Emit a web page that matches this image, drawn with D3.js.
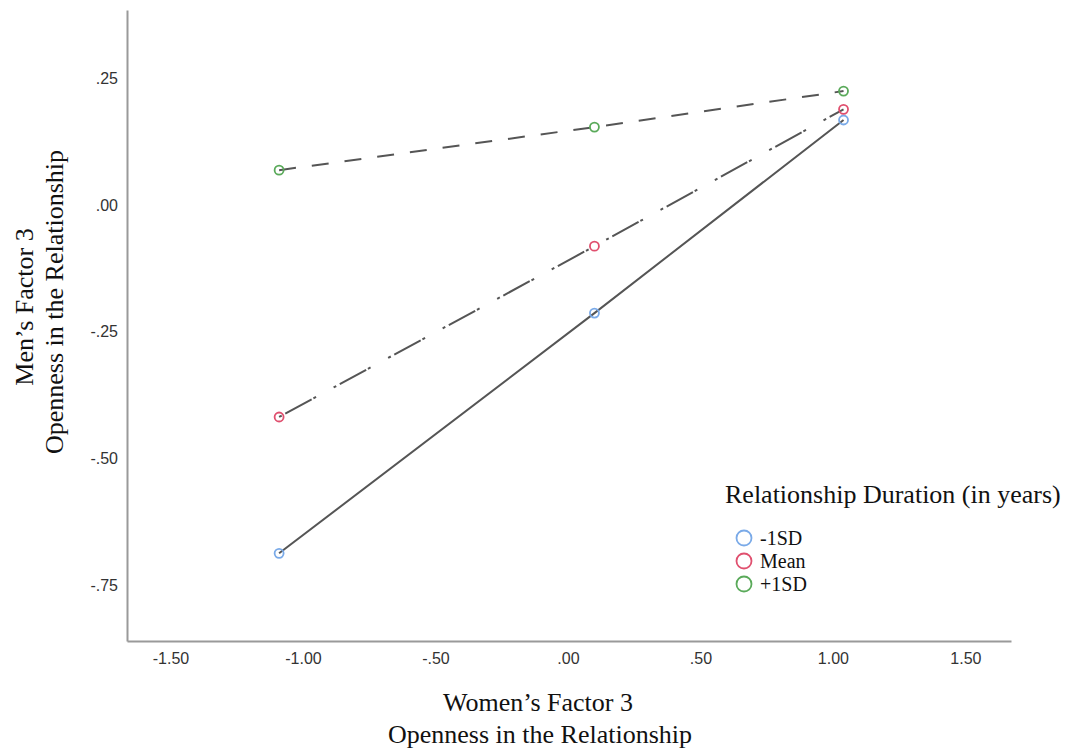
<!DOCTYPE html>
<html>
<head>
<meta charset="utf-8">
<script src="https://cdn.jsdelivr.net/npm/d3@7"></script>
<style>
  body { margin: 0; background: #fff; }
  .tick text { font-family: "Liberation Sans", Arial, sans-serif; font-size: 16px; fill: #333; }
  .lbl { font-family: "Liberation Serif", "Times New Roman", serif; fill: #111; }
</style>
</head>
<body>
<svg id="chart" width="1087" height="748"></svg>
<script>
// Chart data
var xValues = [-1.09, 0.10, 1.04];
var seriesNames = ["-1SD", "Mean", "+1SD"];
var lowSD = [-0.687, -0.213, 0.168];
var meanVals = [-0.418, -0.081, 0.189];
var highSD = [0.069, 0.154, 0.225];
var xTicks = [-1.5, -1.0, -0.5, 0, 0.5, 1.0, 1.5];
var yTicks = [-0.75, -0.5, -0.25, 0, 0.25];

var seriesColors = ["#7aaae8", "#e0506f", "#5aaa5a"];
var seriesDash = [null, "3,4,30,2,3,20", "17,16"];
var seriesValues = [lowSD, meanVals, highSD];

var svg = d3.select("#chart");

var x = d3.scaleLinear().domain([-1.664, 1.672]).range([127, 1011]);
var y = d3.scaleLinear().domain([-0.86, 0.385]).range([641, 10]);

// format like SPSS: .25, -.50, 1.00
function fmt(v) {
    var s = d3.format(".2f")(Math.abs(v));
    if (Math.abs(v) < 1) s = s.replace(/^0/, "");
    return (v < 0 ? "-" : "") + s;
}

// Axes
var xAxis = svg.append("g")
    .attr("transform", "translate(0,641)")
    .call(d3.axisBottom(x).tickValues(xTicks).tickFormat(fmt).tickSize(0).tickPadding(12));
var yAxis = svg.append("g")
    .attr("transform", "translate(127,0)")
    .call(d3.axisLeft(y).tickValues(yTicks).tickFormat(fmt).tickSize(0).tickPadding(9));
[xAxis, yAxis].forEach(a => {
    a.select(".domain").attr("stroke", "#9a9a9a").attr("stroke-width", 2);
});

// Lines and markers
var line = d3.line()
    .x((d, i) => x(xValues[i]))
    .y(d => y(d));

seriesValues.forEach((vals, s) => {
    svg.append("path")
        .datum(vals)
        .attr("d", line)
        .attr("fill", "none")
        .attr("stroke", "#555")
        .attr("stroke-width", 2)
        .attr("stroke-dasharray", seriesDash[s]);
});

seriesValues.forEach((vals, s) => {
    svg.selectAll(null)
        .data(vals)
        .enter().append("circle")
        .attr("cx", (d, i) => x(xValues[i]))
        .attr("cy", d => y(d))
        .attr("r", 4.5)
        .attr("fill", "none")
        .attr("stroke", seriesColors[s])
        .attr("stroke-width", 1.8);
});

// Axis titles
svg.append("text").attr("class", "lbl")
    .attr("x", 538).attr("y", 711)
    .attr("text-anchor", "middle").style("font-size", "26px")
    .text("Women’s Factor 3");
svg.append("text").attr("class", "lbl")
    .attr("x", 540).attr("y", 743)
    .attr("text-anchor", "middle").style("font-size", "26px")
    .text("Openness in the Relationship");

svg.append("text").attr("class", "lbl")
    .attr("transform", "translate(33,307) rotate(-90)")
    .attr("text-anchor", "middle").style("font-size", "26px")
    .text("Men’s Factor 3");
svg.append("text").attr("class", "lbl")
    .attr("transform", "translate(63,302) rotate(-90)")
    .attr("text-anchor", "middle").style("font-size", "26px")
    .text("Openness in the Relationship");

// Legend
svg.append("text").attr("class", "lbl")
    .attr("x", 725).attr("y", 503)
    .style("font-size", "26px")
    .text("Relationship Duration (in years)");

var legend = svg.selectAll(".leg")
    .data(seriesNames)
    .enter().append("g")
    .attr("transform", (d, i) => `translate(744,${538 + i * 23})`);
legend.append("circle")
    .attr("r", 7.5)
    .attr("fill", "none")
    .attr("stroke", (d, i) => seriesColors[i])
    .attr("stroke-width", 1.8);
legend.append("text").attr("class", "lbl")
    .attr("x", 16).attr("y", 7)
    .style("font-size", "20px")
    .text(d => d);
</script>
</body>
</html>
